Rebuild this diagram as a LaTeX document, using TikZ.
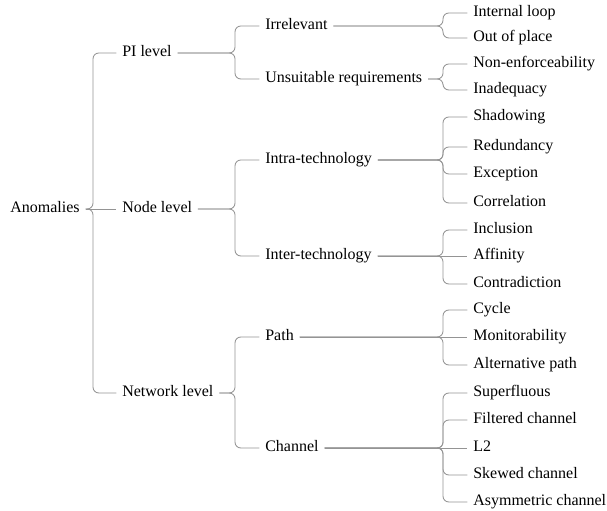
\documentclass[tikz,border=0pt]{standalone}
\usepackage{fontspec}
\setmainfont{Liberation Serif}
\begin{document}
\begin{tikzpicture}[x=0.625pt,y=-0.625pt,
  lab/.style={anchor=west,inner xsep=3.5pt,inner ysep=0pt,text height=6.8pt,text depth=1.9pt,font=\fontsize{10}{12}\selectfont},
  edge/.style={draw=black!42,line width=0.55pt,rounded corners=3.6pt}]
\useasboundingbox (0,0) rectangle (607,511);
\coordinate (j0) at (93,0);
\coordinate (j1) at (235,0);
\coordinate (j2) at (443,0);
% level 0
\node[lab] (A) at (4.4,209) {Anomalies};
% level 1
\node[lab] (PI) at (116.4,53) {PI level};
\node[lab] (NL) at (116.4,209) {Node level};
\node[lab] (NW) at (116.4,393) {Network level};
% level 2
\node[lab] (IR) at (259.4,26) {Irrelevant};
\node[lab] (UR) at (259.4,79) {Unsuitable requirements};
\node[lab] (IA) at (259.4,160) {Intra-technology};
\node[lab] (IE) at (259.4,256) {Inter-technology};
\node[lab] (PA) at (259.4,337) {Path};
\node[lab] (CH) at (259.4,448) {Channel};
% level 3
\node[lab] (IL) at (467.4,13) {Internal loop};
\node[lab] (OP) at (467.4,38) {Out of place};
\node[lab] (NE) at (467.4,64) {Non-enforceability};
\node[lab] (IN) at (467.4,90) {Inadequacy};
\node[lab] (SH) at (467.4,117) {Shadowing};
\node[lab] (RE) at (467.4,147) {Redundancy};
\node[lab] (EX) at (467.4,174) {Exception};
\node[lab] (CO) at (467.4,203) {Correlation};
\node[lab] (INC) at (467.4,230) {Inclusion};
\node[lab] (AF) at (467.4,256) {Affinity};
\node[lab] (CT) at (467.4,284) {Contradiction};
\node[lab] (CY) at (467.4,310) {Cycle};
\node[lab] (MO) at (467.4,337) {Monitorability};
\node[lab] (AP) at (467.4,365) {Alternative path};
\node[lab] (SU) at (467.4,393) {Superfluous};
\node[lab] (FC) at (467.4,420) {Filtered channel};
\node[lab] (L2) at (467.4,448) {L2};
\node[lab] (SK) at (467.4,475) {Skewed channel};
\node[lab] (AS) at (467.4,502) {Asymmetric channel};
% edges level 0 -> 1
\draw[edge] (A.east) -- (A.east -| j0) |- (PI.west);
\draw[edge] (A.east) -- (NL.west);
\draw[edge] (A.east) -- (A.east -| j0) |- (NW.west);
% level 1 -> 2
\foreach \p/\c in {PI/IR,PI/UR,NL/IA,NL/IE,NW/PA,NW/CH}
  \draw[edge] (\p.east) -- (\p.east -| j1) |- (\c.west);
% level 2 -> 3
\foreach \p/\c in {IR/IL,IR/OP,UR/NE,UR/IN,IA/SH,IA/RE,IA/EX,IA/CO,IE/INC,IE/CT,PA/CY,PA/AP,CH/SU,CH/FC,CH/SK,CH/AS}
  \draw[edge] (\p.east) -- (\p.east -| j2) |- (\c.west);
\draw[edge] (IE.east) -- (AF.west);
\draw[edge] (PA.east) -- (MO.west);
\draw[edge] (CH.east) -- (L2.west);
\end{tikzpicture}
\end{document}
